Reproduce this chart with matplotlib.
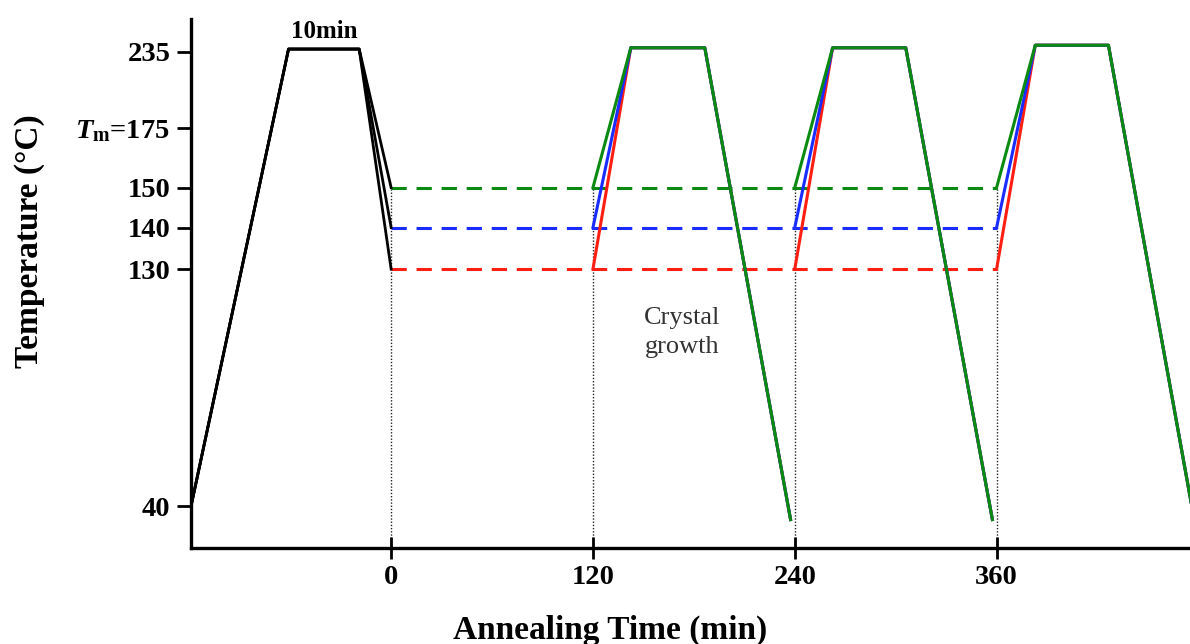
import numpy as np
import matplotlib
matplotlib.use('Agg')
import matplotlib.pyplot as plt

plt.rcParams['font.family'] = 'Liberation Serif'
plt.rcParams['mathtext.fontset'] = 'custom'
plt.rcParams['mathtext.it'] = 'Liberation Serif:italic:bold'
plt.rcParams['mathtext.bf'] = 'Liberation Serif:bold'
plt.rcParams['mathtext.rm'] = 'Liberation Serif:bold'

# isothermal annealing temperatures (C)
levels = [130, 140, 150]
colors = ['#ff1e12', '#1a2cff', '#0a8a10']

# melting step before annealing (min, C)
melt_time = [-119, -61, -19, 0]
melt_temp = [40, 237, 237]

# three heating / holding / quenching cycles (min)
cycle_time = [[120, 142.5, 186.5, 237.5],
              [240, 262.5, 306, 357.5],
              [360, 383, 426.5, 477.5]]
cycle_peak = [238, 238, 240]
quench_temp = 35

iso_start, iso_end = 0, 360
marks = [0, 120, 240, 360]

# temperature axis is schematic: piecewise linear between the labelled values
y_vals = np.array([40, 130, 140, 150, 175, 235])
y_pos = np.array([41.6, 279.0, 320.6, 360.6, 420.0, 496.6])


def forward(v):
    v = np.asarray(v, dtype=float)
    out = np.interp(v, y_vals, y_pos)
    lo = v < y_vals[0]
    hi = v > y_vals[-1]
    s_lo = (y_pos[1] - y_pos[0]) / (y_vals[1] - y_vals[0])
    s_hi = (y_pos[-1] - y_pos[-2]) / (y_vals[-1] - y_vals[-2])
    out = np.where(lo, y_pos[0] + (v - y_vals[0]) * s_lo, out)
    out = np.where(hi, y_pos[-1] + (v - y_vals[-1]) * s_hi, out)
    return out


def inverse(p):
    p = np.asarray(p, dtype=float)
    out = np.interp(p, y_pos, y_vals)
    lo = p < y_pos[0]
    hi = p > y_pos[-1]
    s_lo = (y_vals[1] - y_vals[0]) / (y_pos[1] - y_pos[0])
    s_hi = (y_vals[-1] - y_vals[-2]) / (y_pos[-1] - y_pos[-2])
    out = np.where(lo, y_vals[0] + (p - y_pos[0]) * s_lo, out)
    out = np.where(hi, y_vals[-1] + (p - y_pos[-1]) * s_hi, out)
    return out


fig = plt.figure(figsize=(11.9, 6.44), dpi=100)
ax = fig.add_axes([0.1605, 0.149, 0.8395, 0.821])
ax.set_yscale('function', functions=(forward, inverse))
ax.set_xlim(-119, 475)
ax.set_ylim(24.2, 260.3)

# dotted markers at the start of each step
for t in marks:
    ax.plot([t, t], [24.2, levels[-1]], color='#222222', lw=1.0, ls=(0, (1, 1.3)), zorder=1)

# isothermal holds
for lev, c in zip(levels, colors):
    ax.plot([iso_start, iso_end], [lev, lev], color=c, lw=2.2, ls=(0, (5, 3.2)), zorder=2)

# melting and cooling to the annealing temperature
for lev in levels:
    ax.plot(melt_time, melt_temp + [lev], color='black', lw=2.0, zorder=3)

# heating, holding and quenching cycles
for lev, c in zip(levels, colors):
    for t, peak in zip(cycle_time, cycle_peak):
        ax.plot(t, [lev, peak, peak, quench_temp], color=c, lw=2.2,
                solid_joinstyle='round', zorder=3)

ax.text(-40, 250.5, '10min', ha='center', va='center', fontsize=18, fontweight='bold')
ax.text(173, 106, 'Crystal\ngrowth', ha='center', va='center', fontsize=19,
        color='#333333', linespacing=1.4)

ax.set_xticks(marks)
ax.set_xticklabels([str(m) for m in marks], fontsize=20.5, fontweight='bold')
ax.set_yticks(list(y_vals))
ax.set_yticklabels(['40', '130', '140', '150', r'$\mathit{T}_{\mathbf{m}}$=175', '235'],
                   fontsize=20.5, fontweight='bold')
ax.minorticks_off()
ax.tick_params(axis='x', direction='inout', length=16, width=2, pad=4)
ax.tick_params(axis='y', direction='out', length=10, width=2, pad=5)

for side in ['top', 'right']:
    ax.spines[side].set_visible(False)
for side in ['left', 'bottom']:
    ax.spines[side].set_linewidth(2.4)

ax.set_xlabel('Annealing Time (min)', fontsize=24, fontweight='bold')
ax.xaxis.set_label_coords(0.42, -0.126)
ax.set_ylabel('Temperature (\u00b0C)', fontsize=24, fontweight='bold')
ax.yaxis.set_label_coords(-0.146, 0.58)

fig.savefig('out.png', dpi=100)
